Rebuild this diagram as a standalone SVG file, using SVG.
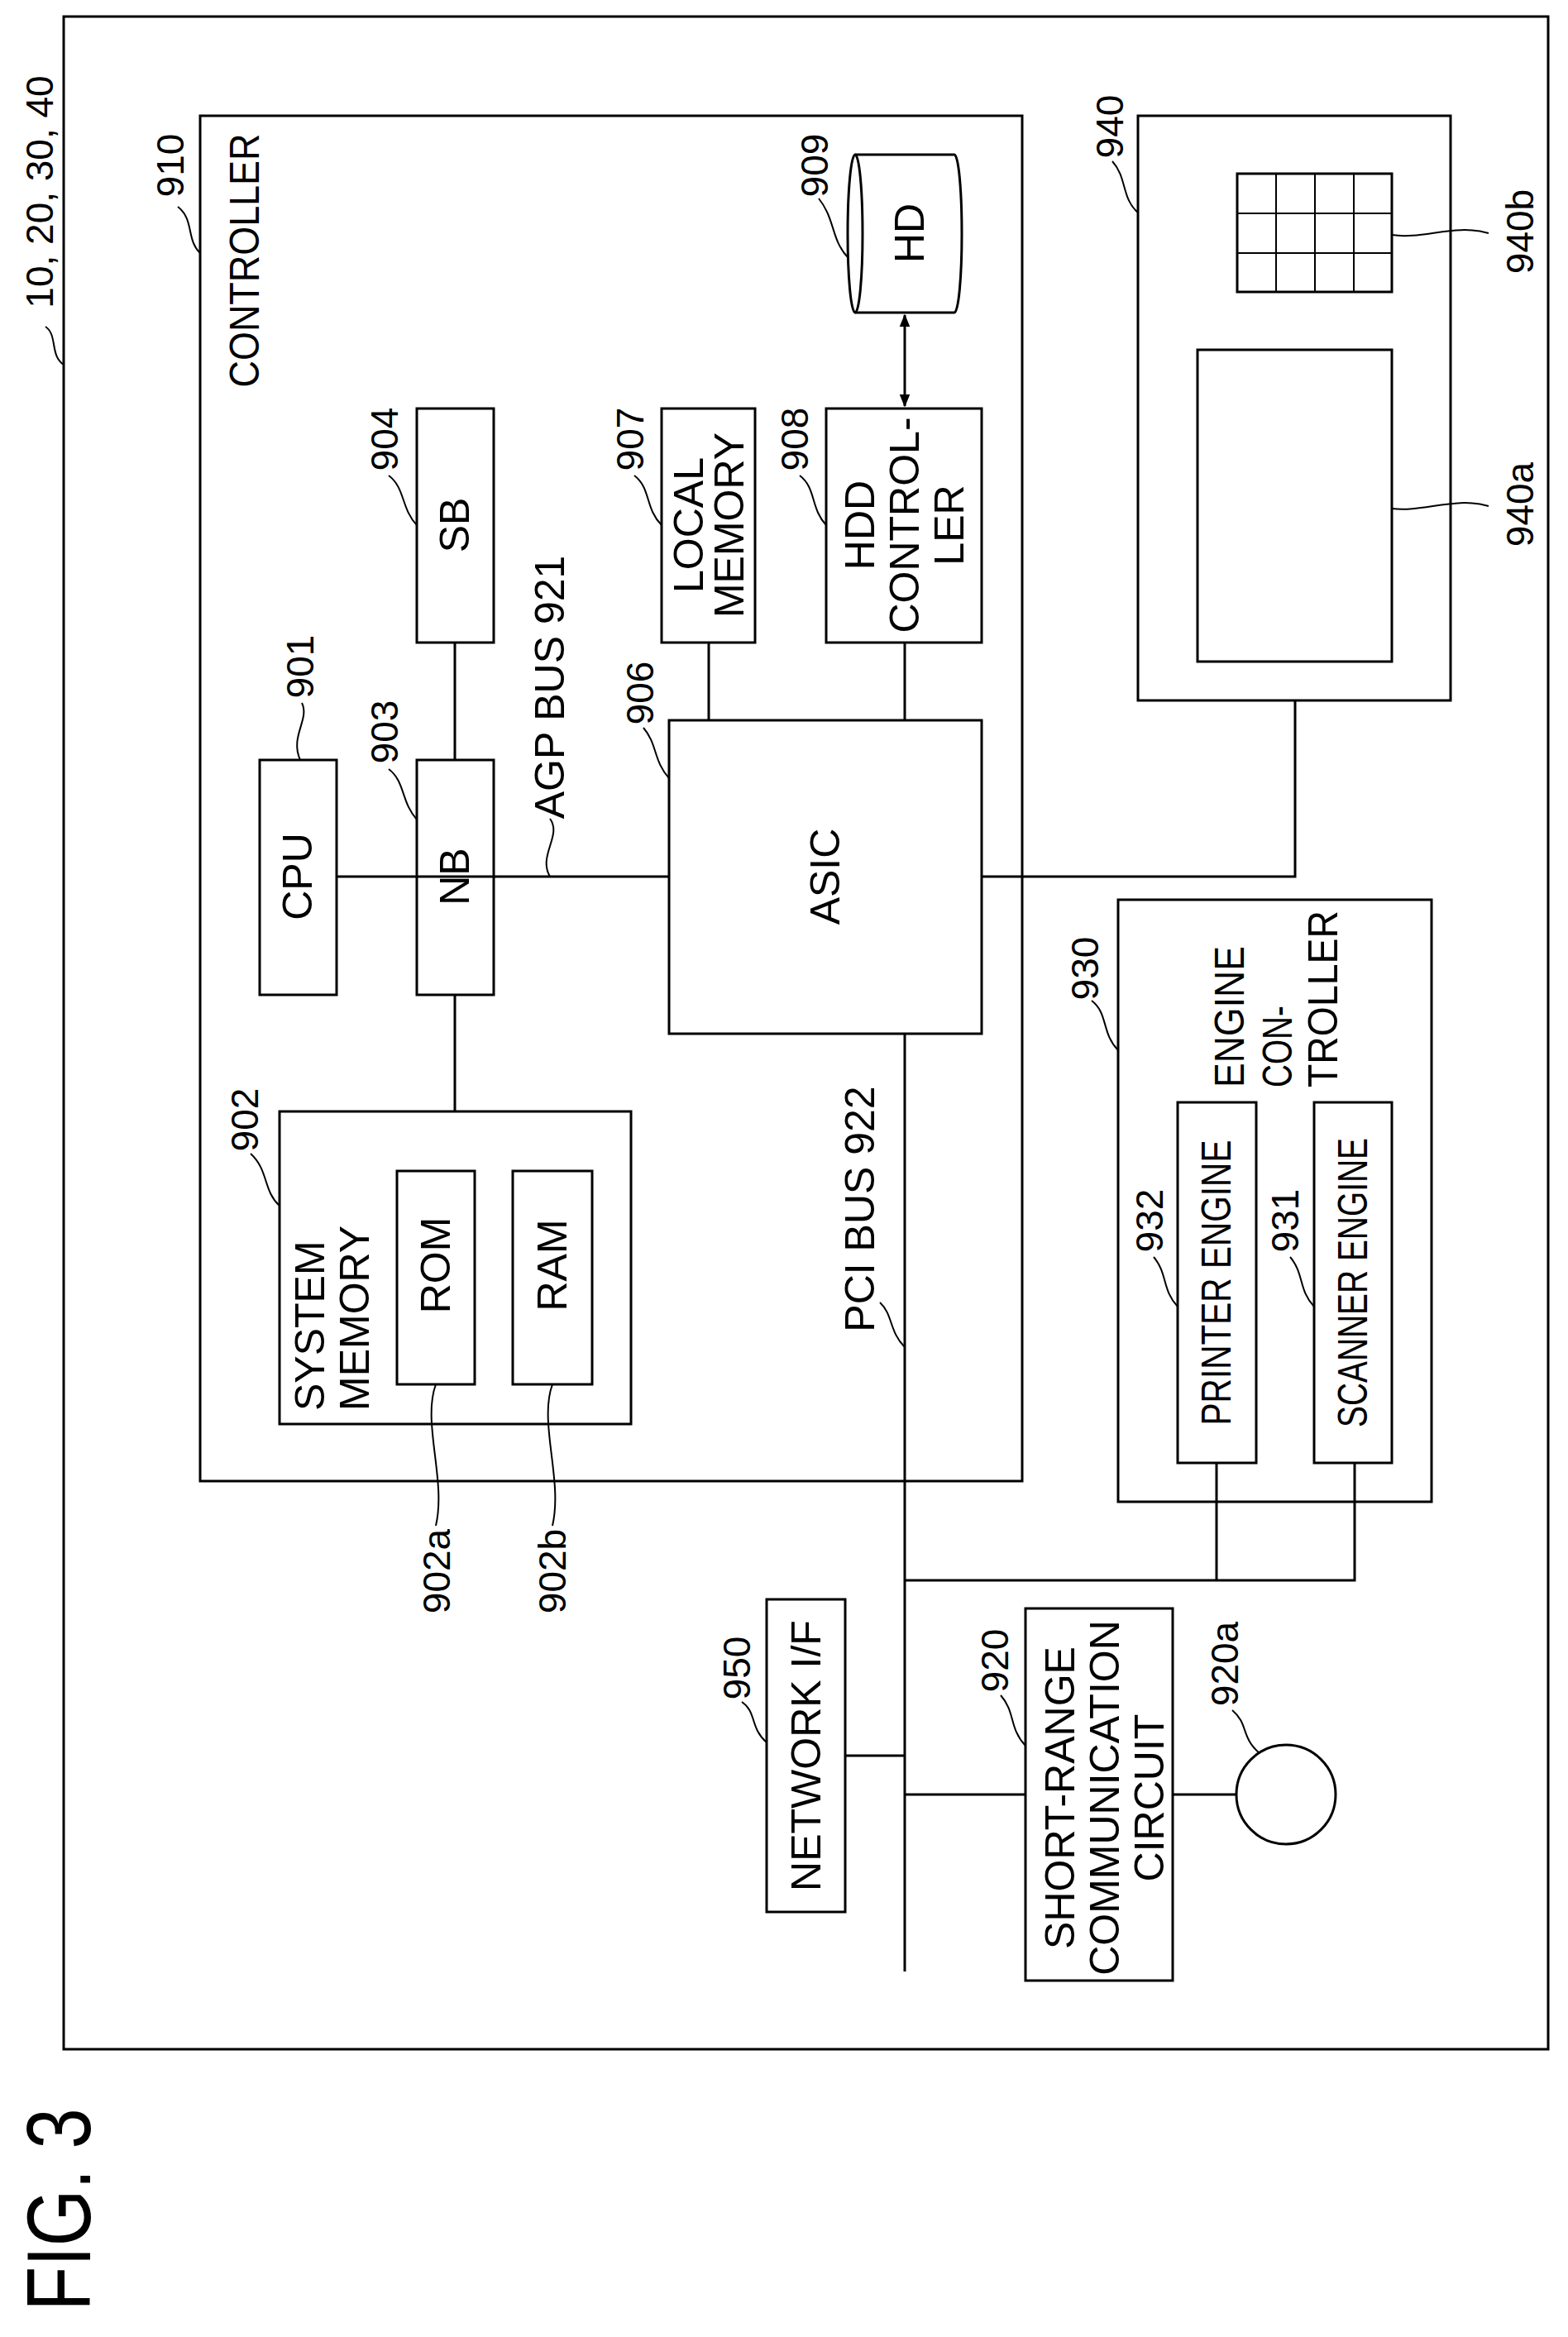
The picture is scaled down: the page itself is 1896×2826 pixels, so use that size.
<svg xmlns="http://www.w3.org/2000/svg" width="1896" height="2826" viewBox="0 0 1896 2826">
<style>
rect,ellipse,path,line{fill:none;stroke:#000;stroke-width:3}
text{font-family:"Liberation Sans",Arial,sans-serif;font-size:50px;fill:#000;text-anchor:middle;dominant-baseline:central}
.n{font-size:46px}
.s{text-anchor:start}
.lead{stroke-width:2}
</style>
<defs><marker id="ah" viewBox="0 0 10 10" refX="9" refY="5" markerWidth="16" markerHeight="16" orient="auto-start-reverse" markerUnits="userSpaceOnUse"><path d="M0,1 L10,5 L0,9 z" style="fill:#000;stroke:none"/></marker></defs>
<rect width="1896" height="2826" style="fill:#fff;stroke:none"/>
<g id="outer"><rect x="77" y="20" width="1795" height="2458"/>
<text transform="translate(48,232) rotate(-90)" class="n">10, 20, 30, 40</text>
<path class="lead" d="M77,441 C60,430 70,405 55,395"/></g>
<g id="controller"><rect x="242" y="140" width="994" height="1651"/>
<text transform="translate(296,315) rotate(-90)" textLength="307" lengthAdjust="spacingAndGlyphs">CONTROLLER</text>
<text transform="translate(206,200) rotate(-90)" class="n">910</text>
<path class="lead" d="M242,306 C225,290 235,265 215,250"/></g>
<g id="cpu"><rect x="314" y="919" width="93" height="284"/><text transform="translate(360,1060) rotate(-90)">CPU</text>
<text transform="translate(363,806) rotate(-90)" class="n">901</text><path class="lead" d="M363,919 C350,890 375,870 365,850"/></g>
<g id="nb"><rect x="504" y="919" width="93" height="284"/><text transform="translate(550,1060) rotate(-90)">NB</text>
<text transform="translate(465,885) rotate(-90)" class="n">903</text><path class="lead" d="M504,991 C485,970 490,945 470,930"/></g>
<g id="sb"><rect x="504" y="494" width="93" height="283"/><text transform="translate(550,635) rotate(-90)">SB</text>
<text transform="translate(465,531) rotate(-90)" class="n">904</text><path class="lead" d="M504,635 C485,615 490,590 470,575"/></g>
<g id="localmem"><rect x="800" y="494" width="113" height="283"/><text transform="translate(833,635) rotate(-90)">LOCAL</text><text transform="translate(882,635) rotate(-90)">MEMORY</text>
<text transform="translate(762,531) rotate(-90)" class="n">907</text><path class="lead" d="M800,635 C780,615 787,590 767,575"/></g>
<g id="hddctrl"><rect x="999" y="494" width="188" height="283"/><text transform="translate(1040,635) rotate(-90)">HDD</text><text transform="translate(1094,635) rotate(-90)">CONTROL-</text><text transform="translate(1148,635) rotate(-90)">LER</text>
<text transform="translate(961,531) rotate(-90)" class="n">908</text><path class="lead" d="M999,635 C980,615 987,590 967,575"/></g>
<g id="hd"><path d="M1034,187 L1154,187 A9,95.5 0 0 1 1154,378 L1034,378"/><ellipse cx="1034" cy="282.5" rx="9" ry="95.5"/><text transform="translate(1100,282) rotate(-90)">HD</text>
<text transform="translate(985,200) rotate(-90)" class="n">909</text><path class="lead" d="M1025,311 C1005,290 1010,265 990,240"/></g>
<g id="asic"><rect x="809" y="871" width="378" height="379"/><text transform="translate(998,1060) rotate(-90)">ASIC</text>
<text transform="translate(774,838) rotate(-90)" class="n">906</text><path class="lead" d="M809,941 C790,920 795,900 778,880"/></g>
<g id="sysmem"><rect x="338" y="1344" width="425" height="378"/>
<text transform="translate(375,1706) rotate(-90)" class="s">SYSTEM</text><text transform="translate(429,1706) rotate(-90)" class="s">MEMORY</text>
<text transform="translate(296,1354) rotate(-90)" class="n">902</text><path class="lead" d="M338,1458 C318,1440 325,1415 303,1395"/></g>
<g id="rom"><rect x="480" y="1416" width="94" height="258"/><text transform="translate(527,1530) rotate(-90)">ROM</text>
<text transform="translate(528,1900) rotate(-90)" class="n">902a</text><path class="lead" d="M527,1674 C510,1720 540,1790 527,1845"/></g>
<g id="ram"><rect x="620" y="1416" width="96" height="258"/><text transform="translate(668,1530) rotate(-90)">RAM</text>
<text transform="translate(668,1900) rotate(-90)" class="n">902b</text><path class="lead" d="M668,1674 C651,1720 681,1790 668,1845"/></g>
<g id="op940"><rect x="1376" y="140" width="378" height="707"/>
<text transform="translate(1342,153) rotate(-90)" class="n">940</text><path class="lead" d="M1376,257 C1356,240 1363,215 1345,195"/></g>
<g id="keypad"><rect x="1496" y="210" width="187" height="143"/>
<path class="lead" d="M1543,210V353M1590,210V353M1637,210V353M1496,258H1683M1496,306H1683"/>
<text transform="translate(1838,280) rotate(-90)" class="n">940b</text><path class="lead" d="M1683,284 C1720,290 1760,270 1800,282"/></g>
<g id="screen"><rect x="1448" y="423" width="235" height="377"/>
<text transform="translate(1838,610) rotate(-90)" class="n">940a</text><path class="lead" d="M1683,615 C1720,620 1760,600 1800,612"/></g>
<g id="engine930"><rect x="1352" y="1088" width="379" height="728"/>
<text transform="translate(1487,1315) rotate(-90)" class="s" textLength="171" lengthAdjust="spacingAndGlyphs">ENGINE</text><text transform="translate(1545,1315) rotate(-90)" class="s" textLength="99" lengthAdjust="spacingAndGlyphs">CON-</text><text transform="translate(1600,1315) rotate(-90)" class="s" textLength="214" lengthAdjust="spacingAndGlyphs">TROLLER</text>
<text transform="translate(1312,1171) rotate(-90)" class="n">930</text><path class="lead" d="M1352,1270 C1332,1250 1340,1225 1320,1210"/></g>
<g id="printer"><rect x="1424" y="1333" width="95" height="436"/><text transform="translate(1471,1551) rotate(-90)" textLength="345" lengthAdjust="spacingAndGlyphs">PRINTER ENGINE</text>
<text transform="translate(1390,1476) rotate(-90)" class="n">932</text><path class="lead" d="M1424,1580 C1405,1560 1412,1540 1395,1520"/></g>
<g id="scanner"><rect x="1589" y="1333" width="94" height="436"/><text transform="translate(1636,1551) rotate(-90)" textLength="350" lengthAdjust="spacingAndGlyphs">SCANNER ENGINE</text>
<text transform="translate(1554,1476) rotate(-90)" class="n">931</text><path class="lead" d="M1589,1580 C1570,1560 1577,1540 1560,1520"/></g>
<g id="netif"><rect x="927" y="1934" width="95" height="378"/><text transform="translate(975,2123) rotate(-90)">NETWORK I/F</text>
<text transform="translate(891,2017) rotate(-90)" class="n">950</text><path class="lead" d="M927,2107 C907,2090 915,2070 897,2058"/></g>
<g id="shortrange"><rect x="1240" y="1945" width="178" height="450"/>
<text transform="translate(1282,2174) rotate(-90)">SHORT-RANGE</text><text transform="translate(1336,2174) rotate(-90)">COMMUNICATION</text><text transform="translate(1390,2174) rotate(-90)">CIRCUIT</text>
<text transform="translate(1203,2008) rotate(-90)" class="n">920</text><path class="lead" d="M1240,2111 C1220,2090 1228,2070 1210,2050"/></g>
<g id="antenna"><circle cx="1555" cy="2170" r="60" style="fill:none;stroke:#000;stroke-width:3"/>
<text transform="translate(1481,2012) rotate(-90)" class="n">920a</text><path class="lead" d="M1523,2120 C1500,2100 1510,2085 1490,2068"/></g>
<g id="labels"><text transform="translate(665,831) rotate(-90)">AGP BUS 921</text><path class="lead" d="M665,1060 C650,1035 680,1010 665,990"/>
<text transform="translate(1040,1462) rotate(-90)">PCI BUS 922</text><path class="lead" d="M1094,1629 C1075,1610 1080,1590 1064,1575"/>
<text transform="translate(70,2672) rotate(-90)" style="font-size:110px" textLength="245" lengthAdjust="spacingAndGlyphs">FIG. 3</text></g>
<g id="connectors">
<path d="M407,1060H809M550,777V919M550,1203V1344M857,777V871M1094,777V871M1187,1060H1566V847M1094,1250V2384M1094,1911H1638V1769M1471,1769V1911M1022,2123H1094M1094,2170H1240M1418,2170H1495"/>
<line x1="1094" y1="381" x2="1094" y2="491" marker-start="url(#ah)" marker-end="url(#ah)"/>
</g>
</svg>
